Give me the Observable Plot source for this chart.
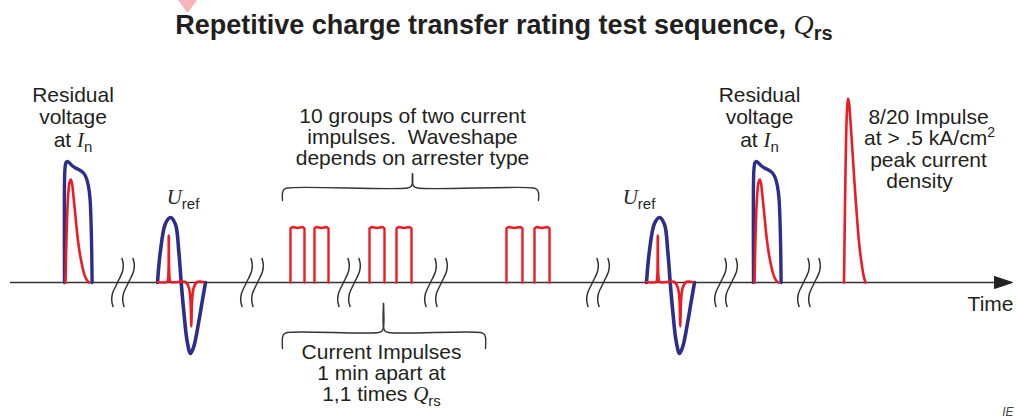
<!DOCTYPE html>
<html><head><meta charset="utf-8">
<script src="https://cdn.jsdelivr.net/npm/d3@7"></script>
<script src="https://cdn.jsdelivr.net/npm/@observablehq/plot@0.6"></script>
<style>
body{margin:0;background:#fff;width:1016px;height:417px;overflow:hidden;position:relative;font-family:"Liberation Sans",Arial,sans-serif;}
#title{height:50px;box-sizing:border-box;padding-top:10px;padding-right:8px;text-align:center;font:bold 27px/30px "Liberation Sans",Arial,sans-serif;color:#231f20;white-space:nowrap;}
#title i{font-family:"Liberation Serif","Times New Roman",serif;font-weight:normal;font-style:italic;font-size:28px;}
#title sub{font-size:20px;vertical-align:-6px;line-height:0;}
#mark{position:absolute;left:178px;top:0;width:19px;height:13px;background:#f6b3b8;clip-path:polygon(0 0,100% 0,50% 100%);}
</style></head>
<body>
<div id="mark"></div>
<div id="title"></div>
<div id="chart"></div>
<script>
// ---- title
const titleMain = "Repetitive charge transfer rating test sequence, ";
const titleSymbol = "Q";
const titleSub = "rs";

// ---- time axis (time units, amplitude units)
const axisSpan = [10, 1012];          // start, arrow tip
const arrowHead = [[994, 6], [1012, 0], [994, -6], [994, 6]];

// ---- time breaks (centre of first squiggle of each pair)
const breakTimes = [117, 246, 343, 430, 592, 720, 803];
const breakGap = 11;
const breakShape = [[4.5, 24], [5.8, 18], [5, 11], [0, 0], [-5, -11], [-5.8, -18], [-4.5, -24]];

// ---- residual voltage at In (blue = voltage, red = current)
const residualStarts = [64, 753];
const residualVoltage = [[0,0],[0,100],[0.5,114],[1.5,120],[3,121],[5,119.5],[8,116.5],[11,114.5],[15,112.5],[19,109.5],[22,104],[24,96],[25.5,84],[26.5,62],[27.2,32],[27.6,0]];
const residualCurrent = [[1,0],[2,45],[3.5,85],[5,100],[6.3,103],[7.5,99],[9,86],[11,66],[13,46],[15,31],[17,20],[19,11],[21,5],[23,1.5],[24.5,0]];

// ---- Uref (blue = voltage, red = current)
const urefStarts = [157, 646];
const urefVoltage = [[0,0],[3,32],[8,59],[13,65],[18,58],[21.3,31],[23.7,0],[26.3,-29],[29.7,-59],[33,-71],[36.3,-64],[41.3,-39],[44.7,-19],[48,0]];
const urefCurrent = [[0,0.5],[9.5,0.5],[10.5,3],[11.3,47],[12.2,3],[13.2,0.5],[28,0.5],[31.3,-5],[33,-18],[33.8,-44],[34.6,-18],[36.3,-5],[39.7,0.5],[46.3,0.5]];

// ---- 10 groups of two current impulses (three shown)
const pulseStarts = [290, 314, 369, 396, 506, 534];
const pulseEnds   = [304, 328, 384, 411, 522, 549];
const pulseHeight = 55;

// ---- 8/20 impulse
const impulse820 = [[843.5,0],[844.2,55],[844.9,105],[845.7,148],[846.5,172],[847.5,184],[848.6,179],[850,161],[851.7,135],[854,100],[856.7,62],[859,36],[861.7,15],[863.5,5],[865,0]];

// ---- braces
const braceFrom = [282, 282];
const braceTo   = [538, 485];
const braceTip  = [412, 383];
const braceEndY = [82, -66];
const braceBarY = [94.5, -50];
const braceTipY = [108.7, -21];

// ---- labels
const residualLabel = ["Residual", "voltage", "at *I*_n"];
const residualLabelX = [72.5, 759];
const urefLabel = "*U*_ref";
const urefLabelX = [182.5, 638.5];
const groupsLabel = ["10 groups of two current", "impulses.\u00A0 Waveshape", "depends on arrester type"];
const impulsesLabel = ["Current Impulses", "1 min apart at", "1,1 times *Q*_rs"];
const peakLabel = ["8/20 Impulse", "at > .5 kA/cm^2", "peak current", "density"];
const peakLabelX = [928, 929, 928, 919];
const axisLabel = "Time";
const sourceLabel = "IE";

// ---------- build
document.getElementById("title").innerHTML = `${titleMain}<i>${titleSymbol}</i><sub>${titleSub}</sub>`;

const BLUE = "#2b2e8c", RED = "#ec1c24", INK = "#231f20";
const Y0 = 282; // page baseline of the time axis
const py = p => Y0 - p;

const place = (starts, shape) => starts.flatMap((t, i) => shape.map(([dx, v]) => ({x: t + dx, y: v, id: i})));

const breakRows = breakTimes.flatMap((t, i) => [0, 1].flatMap(k =>
  breakShape.map(([dx, dy]) => ({x: t + k * breakGap + dx, y: dy, id: `${i}-${k}`}))));

const pulseRows = pulseStarts.flatMap((l, i) => {
  const r = pulseEnds[i], h = pulseHeight;
  return [[l,0],[l,h-1],[l+2,h+0.5],[(l+r)/2,h-0.5],[r-2,h+0.5],[r,h-1],[r,0]].map(([x, y]) => ({x, y, id: i}));
});

const braceRows = braceFrom.flatMap((a, i) => {
  const b = braceTo[i], t = braceTip[i], e = braceEndY[i], h = braceBarY[i], p = braceTipY[i], r = 5;
  const left = [[a,e],[a,h-r],[a+1.5,h-1.5],[a+r,h],[t-r,h],[t-1.5,h+1.5],[t,h+r],[t,p]];
  const right = [[b,e],[b,h-r],[b-1.5,h-1.5],[b-r,h],[t+r,h],[t+1.5,h+1.5],[t,h+r],[t,p]];
  return [...left.map(([x,y]) => ({x, y, id: `${i}L`})), ...right.map(([x,y]) => ({x, y, id: `${i}R`}))];
});

const labels = [];
const addLines = (lines, xs, baseline0, step) => lines.forEach((s, i) =>
  labels.push({x: Array.isArray(xs) ? xs[i] : xs, y: py(baseline0 + i * step), text: s}));
residualLabelX.forEach(x => addLines(residualLabel, x, 101.5, 22.3));
urefLabelX.forEach(x => labels.push({x, y: py(203), text: urefLabel}));
addLines(groupsLabel, 412, 122, 21);
addLines(impulsesLabel, 381, 358, 21);
addLines(peakLabel, peakLabelX, 123, 21.6);

const chart = Plot.plot({
  width: 1016, height: 367, margin: 0,
  x: {domain: [0, 1016], axis: null},
  y: {domain: [py(417), py(50)], axis: null},
  style: {background: "white", fontFamily: "Liberation Sans, Arial, sans-serif", overflow: "visible"},
  marks: [
    Plot.ruleY([0], {x1: axisSpan[0], x2: axisSpan[1] - 10, stroke: "#333", strokeWidth: 1.4}),
    Plot.line(arrowHead, {fill: "#222", stroke: "#222", strokeWidth: 1}),
    Plot.line(breakRows, {x: "x", y: "y", z: "id", curve: "catmull-rom", stroke: "#333", strokeWidth: 1.5}),
    Plot.line(braceRows, {x: "x", y: "y", z: "id", curve: "catmull-rom", stroke: "#333", strokeWidth: 1.4}),
    Plot.line(place(residualStarts, residualVoltage), {x: "x", y: "y", z: "id", curve: "catmull-rom", stroke: BLUE, strokeWidth: 3.4}),
    Plot.line(place(urefStarts, urefVoltage), {x: "x", y: "y", z: "id", curve: "catmull-rom", stroke: BLUE, strokeWidth: 3.6}),
    Plot.line(place(residualStarts, residualCurrent), {x: "x", y: "y", z: "id", curve: "catmull-rom", stroke: RED, strokeWidth: 2.6}),
    Plot.line(place(urefStarts, urefCurrent), {x: "x", y: "y", z: "id", curve: "catmull-rom", stroke: RED, strokeWidth: 2.6}),
    Plot.line(pulseRows, {x: "x", y: "y", z: "id", stroke: RED, strokeWidth: 2.4, strokeLinejoin: "round"}),
    Plot.line(impulse820, {curve: "catmull-rom", stroke: RED, strokeWidth: 2.6}),
    Plot.text(labels, {x: "x", y: "y", text: "text", lineAnchor: "bottom", fontSize: 21, fill: INK}),
    Plot.text([axisLabel], {x: 1013, y: py(310.5), text: d => d, textAnchor: "end", lineAnchor: "bottom", fontSize: 21, fill: INK}),
    Plot.text([sourceLabel], {x: 1013, y: py(415), text: d => d, textAnchor: "end", lineAnchor: "bottom", fontSize: 12, fontStyle: "italic", fill: "#444"})
  ]
});

// rich text: *x* italic serif, _x subscript, ^x superscript
const NS = "http://www.w3.org/2000/svg";
chart.querySelectorAll("text").forEach(el => {
  const s = el.textContent;
  if (!/[*_^]/.test(s)) return;
  el.textContent = "";
  const re = /\*([^*]+)\*|_(\S+)|\^(\S+)|([^*_^]+)/g;
  let m;
  while ((m = re.exec(s))) {
    const t = document.createElementNS(NS, "tspan");
    if (m[1]) { t.textContent = m[1]; t.setAttribute("font-family", "Liberation Serif, Times New Roman, serif"); t.setAttribute("font-style", "italic"); t.setAttribute("font-size", "21"); }
    else if (m[2]) { t.textContent = m[2]; t.setAttribute("font-size", "15"); t.setAttribute("dy", "5"); }
    else if (m[3]) { t.textContent = m[3]; t.setAttribute("font-size", "14"); t.setAttribute("dy", "-8"); }
    else t.textContent = m[4];
    el.appendChild(t);
  }
});
document.getElementById("chart").appendChild(chart);
</script>
</body></html>
